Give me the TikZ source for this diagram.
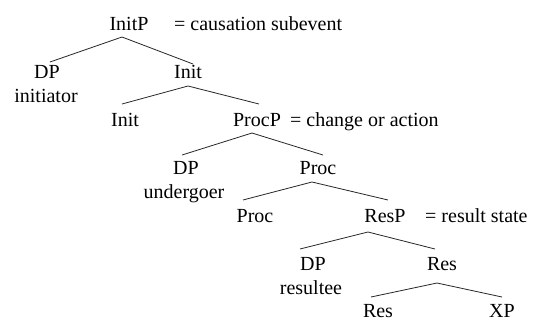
\documentclass[tikz,border=0pt]{standalone}
\usepackage{fontspec}
\setmainfont{Liberation Serif}
\begin{document}
\begin{tikzpicture}[x=1pt,y=-1pt,
  lbl/.style={anchor=base,inner sep=0pt,font=\fontsize{20}{23}\selectfont},
  gloss/.style={anchor=base west,inner sep=0pt,font=\fontsize{20}{23}\selectfont},
  branch/.style={line width=0.8pt,draw=black!85}]
\useasboundingbox (0,0) rectangle (534,322);
% level 0
\node[lbl] (initP) at (129,30) {InitP};
\node[gloss] (g1) at (174,30) {= causation subevent};
% level 1
\node[lbl] (dp1) at (47,78) {DP};
\node[lbl] (ini) at (46,102) {initiator};
\node[lbl] (init1) at (188,78) {Init};
% level 2
\node[lbl] (init2) at (125,126) {Init};
\node[lbl] (procP) at (257,126) {ProcP};
\node[gloss] (g2) at (290,126) {= change or action};
% level 3
\node[lbl] (dp2) at (186,174) {DP};
\node[lbl] (und) at (184,198) {undergoer};
\node[lbl] (proc1) at (318,174) {Proc};
% level 4
\node[lbl] (proc2) at (255,222) {Proc};
\node[lbl] (resP) at (385,222) {ResP};
\node[gloss] (g3) at (425,222) {= result state};
% level 5
\node[lbl] (dp3) at (313,270) {DP};
\node[lbl] (rte) at (311,294) {resultee};
\node[lbl] (res1) at (442,270) {Res};
% level 6
\node[lbl] (res2) at (378,317) {Res};
\node[lbl] (xp) at (502,317) {XP};
% branch points
\coordinate (a0) at (122,37);  \coordinate (l0) at (50,62);  \coordinate (r0) at (193,64);
\coordinate (a1) at (188,86);  \coordinate (l1) at (122,104); \coordinate (r1) at (259,104);
\coordinate (a2) at (252,133); \coordinate (l2) at (182,155); \coordinate (r2) at (323,155);
\coordinate (a3) at (312,182); \coordinate (l3) at (243,200); \coordinate (r3) at (388,200);
\coordinate (a4) at (368,232); \coordinate (l4) at (300,249); \coordinate (r4) at (435,249);
\coordinate (a5) at (437,283); \coordinate (l5) at (371,297); \coordinate (r5) at (502,297);
\draw[branch] (l0) -- (a0) -- (r0);
\draw[branch] (l1) -- (a1) -- (r1);
\draw[branch] (l2) -- (a2) -- (r2);
\draw[branch] (l3) -- (a3) -- (r3);
\draw[branch] (l4) -- (a4) -- (r4);
\draw[branch] (l5) -- (a5) -- (r5);
\end{tikzpicture}
\end{document}
